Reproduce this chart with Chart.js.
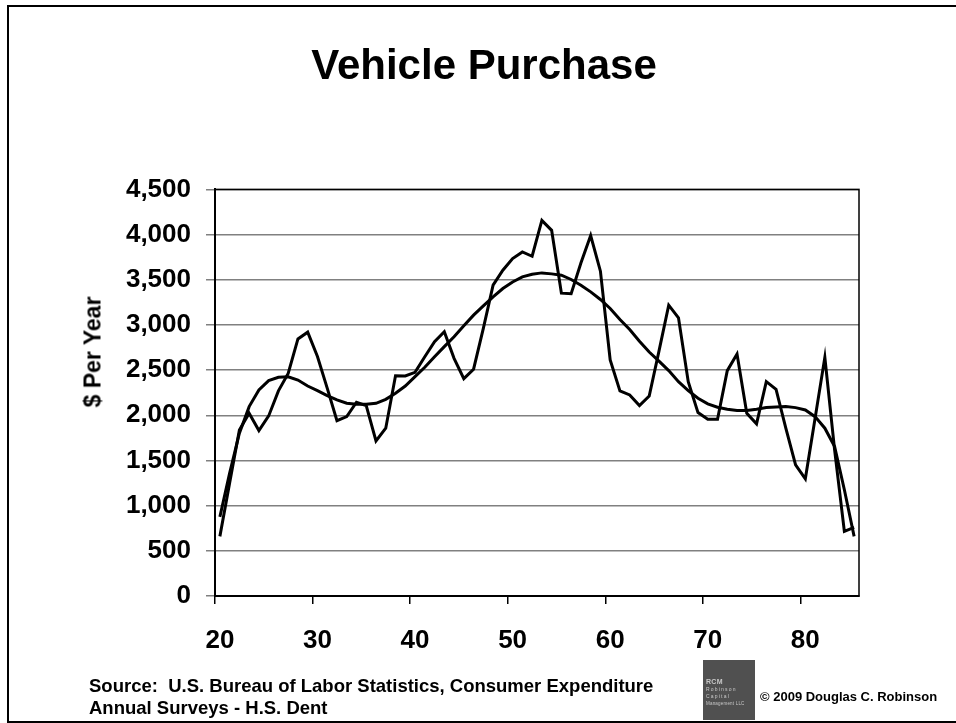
<!DOCTYPE html>
<html>
<head>
<meta charset="utf-8">
<script src="https://cdn.jsdelivr.net/npm/chart.js@4"></script>
<style>
  html, body { margin: 0; padding: 0; background: #fff; }
  #wrap { position: relative; width: 956px; height: 723px; overflow: hidden; font-family: "Liberation Sans", Arial, sans-serif; color: #000; }
  #frame { position: absolute; left: 7px; top: 5px; width: 990px; height: 714px; border: 2px solid #000; }
  #chart { position: absolute; left: 0; top: 0; }
  #ytitle { position: absolute; left: 93px; top: 352px; transform: translate(-50%, -50%) rotate(-90deg); font-weight: bold; font-size: 23px; white-space: nowrap; }
  #source { position: absolute; left: 89px; top: 675px; font-weight: bold; font-size: 18.5px; line-height: 21.6px; white-space: nowrap; }
  #copy { position: absolute; left: 760px; top: 689px; font-weight: bold; font-size: 13px; line-height: 15px; white-space: nowrap; }
  #logo { position: absolute; left: 703px; top: 660px; width: 52px; height: 60px; background: #505050; color: #c8c8c8; font-size: 5px; line-height: 7px; letter-spacing: 1.2px; }
  #logo div { position: absolute; left: 3px; white-space: nowrap; }
</style>
</head>
<body>
<div id="wrap">
  <div id="frame"></div>
  <canvas id="chart" width="956" height="723"></canvas>
  <div id="ytitle">$ Per Year</div>
  <div id="source">Source:&nbsp; U.S. Bureau of Labor Statistics, Consumer Expenditure<br>Annual Surveys - H.S. Dent</div>
  <div id="logo">
    <div style="top:18px;font-weight:bold;font-size:7px;letter-spacing:0.3px;">RCM</div>
    <div style="top:26px;">Robinson</div>
    <div style="top:33px;">Capital</div>
    <div style="top:40px;letter-spacing:0.2px;font-size:4.5px;">Management LLC</div>
  </div>
  <div id="copy">© 2009 Douglas C. Robinson</div>
</div>
<script>
// ---- data ----
const ages = [20,21,22,23,24,25,26,27,28,29,30,31,32,33,34,35,36,37,38,39,
              40,41,42,43,44,45,46,47,48,49,50,51,52,53,54,55,56,57,58,59,
              60,61,62,63,64,65,66,67,68,69,70,71,72,73,74,75,76,77,78,79,
              80,81,82,83,84,85];
const vehicleSpending = [660,1250,1838,2023,1831,1993,2270,2464,2845,2920,
                         2650,2300,1940,1985,2144,2107,1717,1857,2438,2435,
                         2476,2648,2814,2924,2630,2405,2510,2961,3440,3605,
                         3734,3808,3760,4157,4047,3352,3345,3685,3990,3595,
                         2612,2270,2225,2107,2214,2710,3219,3079,2372,2030,
                         1956,1956,2494,2678,2023,1905,2372,2288,1857,1452,
                         1297,1968,2641,1618,716,760];
const trendLine = [875,1360,1802,2096,2280,2383,2420,2427,2390,2324,
                   2273,2218,2170,2133,2122,2122,2133,2177,2244,2324,
                   2427,2531,2648,2760,2869,2990,3108,3211,3311,3403,
                   3476,3532,3561,3576,3565,3550,3503,3440,3366,3282,
                   3182,3061,2950,2820,2700,2600,2495,2372,2273,2188,
                   2126,2089,2067,2052,2052,2067,2085,2093,2096,2085,
                   2059,1985,1857,1654,1176,660];
const xTickLabels = ['20','30','40','50','60','70','80'];
const yMin = 0, yMax = 4500, yStep = 500;
const chartTitle = 'Vehicle Purchase';

const FONT = '"Liberation Sans", Arial, sans-serif';
Chart.defaults.color = '#000';
Chart.defaults.font.family = FONT;

const frameBorder = {
  id: 'frameBorder',
  beforeDatasetsDraw(chart) {
    const a = chart.chartArea, ctx = chart.ctx;
    ctx.save();
    ctx.strokeStyle = '#000';
    ctx.lineWidth = 1.5;
    ctx.strokeRect(a.left, a.top, a.right - a.left, a.bottom - a.top);
    ctx.restore();
  }
};

new Chart(document.getElementById('chart'), {
  type: 'line',
  data: {
    labels: ages,
    datasets: [
      { label: 'Vehicle purchase', data: vehicleSpending, borderColor: '#000', borderWidth: 3, pointRadius: 0, tension: 0, fill: false },
      { label: 'Trend', data: trendLine, borderColor: '#000', borderWidth: 3, pointRadius: 0, tension: 0, fill: false }
    ]
  },
  options: {
    responsive: false,
    animation: false,
    events: [],
    layout: { padding: { left: 109, right: 97, top: 0, bottom: 0 } },
    plugins: {
      legend: { display: false },
      tooltip: { enabled: false },
      title: {
        display: true,
        text: chartTitle,
        color: '#000',
        font: { size: 42, weight: 'bold', family: FONT, lineHeight: 1.2 },
        padding: { top: 42, bottom: 97 }
      }
    },
    scales: {
      x: {
        type: 'category',
        offset: true,
        afterFit(s) { s.height = 127; },
        grid: {
          offset: true,
          drawOnChartArea: false,
          drawTicks: true,
          tickLength: 8,
          lineWidth: 1.5,
          tickColor: (c) => (c.index < ages.length && xTickLabels.includes(String(ages[c.index])) ? '#000' : 'rgba(0,0,0,0)')
        },
        border: { color: '#000', width: 2 },
        ticks: {
          autoSkip: false,
          maxRotation: 0,
          minRotation: 0,
          padding: 21,
          color: '#000',
          font: { size: 26, weight: 'bold', family: FONT },
          callback(v, i) { const l = String(ages[i]); return xTickLabels.includes(l) ? l : ''; }
        }
      },
      y: {
        min: yMin,
        max: yMax,
        afterFit(s) { s.width = 106; },
        grid: { color: '#808080', lineWidth: 1.5, tickLength: 9, tickColor: '#808080' },
        border: { color: '#000', width: 2 },
        ticks: {
          stepSize: yStep,
          padding: 15,
          color: '#000',
          font: { size: 26, weight: 'bold', family: FONT },
          callback(v) { return Number(v).toLocaleString('en-US'); }
        }
      }
    }
  },
  plugins: [frameBorder]
});
</script>
</body>
</html>
